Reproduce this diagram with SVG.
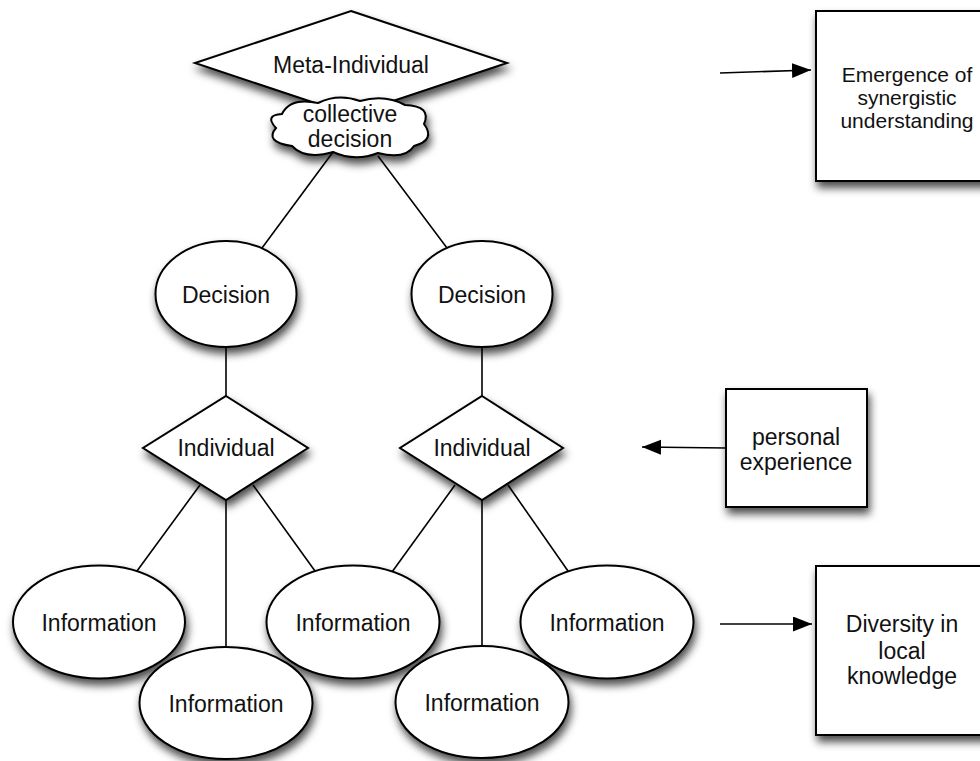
<svg xmlns="http://www.w3.org/2000/svg" width="980" height="761" viewBox="0 0 980 761">
<defs>
<filter id="sh" x="-20%" y="-20%" width="150%" height="160%">
<feDropShadow dx="2" dy="6" stdDeviation="4" flood-color="#000" flood-opacity="0.7"/>
</filter>
<marker id="ah" markerUnits="userSpaceOnUse" markerWidth="20" markerHeight="16" refX="19" refY="7.5" orient="auto">
<path d="M0,0 L19,7.5 L0,15 Z" fill="#000"/>
</marker>
<style>
.n{fill:#fff;stroke:#000;stroke-width:2;filter:url(#sh)}
.t{font-family:"Liberation Sans",Arial,Helvetica,sans-serif;font-size:23px;fill:#111;text-anchor:middle}
.s{font-size:21px}
.c line{stroke:#000;stroke-width:1.6}
</style>
</defs>
<rect width="980" height="761" fill="#fff"/>
<g id="connectors" class="c">
<line x1="333" y1="152" x2="262" y2="248"/>
<line x1="378" y1="156" x2="447" y2="248"/>
<line x1="226" y1="347" x2="226" y2="396"/>
<line x1="482" y1="347" x2="482" y2="396"/>
<line x1="200" y1="485" x2="137" y2="571"/>
<line x1="226" y1="500" x2="226" y2="647"/>
<line x1="253" y1="485" x2="315" y2="571"/>
<line x1="455" y1="485" x2="392" y2="572"/>
<line x1="482" y1="500" x2="482" y2="646"/>
<line x1="508" y1="485" x2="568" y2="571"/>
<line x1="720" y1="73" x2="811" y2="70" marker-end="url(#ah)"/>
<line x1="726" y1="448" x2="642" y2="447" marker-end="url(#ah)"/>
<line x1="720" y1="624" x2="812" y2="624" marker-end="url(#ah)"/>
</g>
<g id="meta-individual">
<polygon class="n" points="351,11 507,63 351,115 195,63"/>
<text class="t" x="351" y="73">Meta-Individual</text>
</g>
<g id="collective-decision">
<path class="n" d="M282 114 Q290 97 318 103 Q338 93 360 101 Q385 94 405 105 Q432 106 424 124 Q436 140 414 146 Q405 160 378 153 Q355 162 333 152 Q305 160 292 146 Q264 142 276 128 Q264 115 282 114 Z"/>
<text class="t" x="350" y="122">collective</text>
<text class="t" x="350" y="147">decision</text>
</g>
<g id="decision-left">
<ellipse class="n" cx="226" cy="294" rx="70.5" ry="53"/>
<text class="t" x="226" y="303">Decision</text>
</g>
<g id="decision-right">
<ellipse class="n" cx="482" cy="294" rx="70.5" ry="53"/>
<text class="t" x="482" y="303">Decision</text>
</g>
<g id="individual-left">
<polygon class="n" points="226,396 308,448 226,500 143,448"/>
<text class="t" x="226" y="456">Individual</text>
</g>
<g id="individual-right">
<polygon class="n" points="482,396 563,448 482,500 400,448"/>
<text class="t" x="482" y="456">Individual</text>
</g>
<g id="info-1">
<ellipse class="n" cx="99" cy="622" rx="86" ry="56.5"/>
<text class="t" x="99" y="631">Information</text>
</g>
<g id="info-3">
<ellipse class="n" cx="353" cy="622" rx="86.5" ry="56.5"/>
<text class="t" x="353" y="631">Information</text>
</g>
<g id="info-5">
<ellipse class="n" cx="607" cy="622" rx="86.5" ry="56.5"/>
<text class="t" x="607" y="631">Information</text>
</g>
<g id="info-2">
<ellipse class="n" cx="226" cy="703" rx="86.5" ry="56"/>
<text class="t" x="226" y="712">Information</text>
</g>
<g id="info-4">
<ellipse class="n" cx="482" cy="702" rx="86.5" ry="56"/>
<text class="t" x="482" y="711">Information</text>
</g>
<g id="emergence">
<rect class="n" x="816" y="11" width="186" height="170"/>
<text class="t s" x="907" y="82">Emergence of</text>
<text class="t s" x="907" y="105">synergistic</text>
<text class="t s" x="907" y="128">understanding</text>
</g>
<g id="personal-experience">
<rect class="n" x="726" y="389" width="141" height="118"/>
<text class="t" x="796" y="445">personal</text>
<text class="t" x="796" y="470">experience</text>
</g>
<g id="diversity">
<rect class="n" x="816" y="566" width="172" height="169"/>
<text class="t" x="902" y="632">Diversity in</text>
<text class="t" x="902" y="659">local</text>
<text class="t" x="902" y="684">knowledge</text>
</g>
</svg>
